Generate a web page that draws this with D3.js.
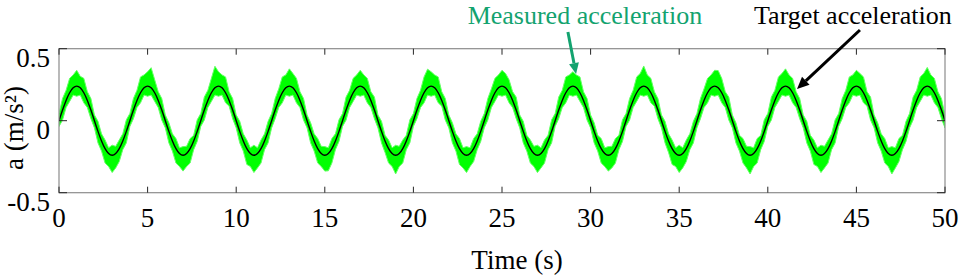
<!DOCTYPE html>
<html>
<head>
<meta charset="utf-8">
<script src="https://cdn.jsdelivr.net/npm/d3@7"></script>
<style>
  body { margin: 0; background: #fff; }
  svg text { font-family: "Liberation Serif", "Times New Roman", serif; }
</style>
</head>
<body>
<div id="chart"></div>
<script>
// sample spacing of the traces (s)
const sampleStep = 0.2;

// target acceleration (m/s^2), one value every 0.2 s from 0 to 50 s
const targetAcc = [
  0, 0.074, 0.141, 0.194, 0.228, 0.240, 0.228, 0.194, 0.141, 0.074, 0, -0.074, -0.141, -0.194, -0.228, -0.240, -0.228, -0.194, -0.141, -0.074,
  0, 0.074, 0.141, 0.194, 0.228, 0.240, 0.228, 0.194, 0.141, 0.074, 0, -0.074, -0.141, -0.194, -0.228, -0.240, -0.228, -0.194, -0.141, -0.074,
  0, 0.074, 0.141, 0.194, 0.228, 0.240, 0.228, 0.194, 0.141, 0.074, 0, -0.074, -0.141, -0.194, -0.228, -0.240, -0.228, -0.194, -0.141, -0.074,
  0, 0.074, 0.141, 0.194, 0.228, 0.240, 0.228, 0.194, 0.141, 0.074, 0, -0.074, -0.141, -0.194, -0.228, -0.240, -0.228, -0.194, -0.141, -0.074,
  0, 0.074, 0.141, 0.194, 0.228, 0.240, 0.228, 0.194, 0.141, 0.074, 0, -0.074, -0.141, -0.194, -0.228, -0.240, -0.228, -0.194, -0.141, -0.074,
  0, 0.074, 0.141, 0.194, 0.228, 0.240, 0.228, 0.194, 0.141, 0.074, 0, -0.074, -0.141, -0.194, -0.228, -0.240, -0.228, -0.194, -0.141, -0.074,
  0, 0.074, 0.141, 0.194, 0.228, 0.240, 0.228, 0.194, 0.141, 0.074, 0, -0.074, -0.141, -0.194, -0.228, -0.240, -0.228, -0.194, -0.141, -0.074,
  0, 0.074, 0.141, 0.194, 0.228, 0.240, 0.228, 0.194, 0.141, 0.074, 0, -0.074, -0.141, -0.194, -0.228, -0.240, -0.228, -0.194, -0.141, -0.074,
  0, 0.074, 0.141, 0.194, 0.228, 0.240, 0.228, 0.194, 0.141, 0.074, 0, -0.074, -0.141, -0.194, -0.228, -0.240, -0.228, -0.194, -0.141, -0.074,
  0, 0.074, 0.141, 0.194, 0.228, 0.240, 0.228, 0.194, 0.141, 0.074, 0, -0.074, -0.141, -0.194, -0.228, -0.240, -0.228, -0.194, -0.141, -0.074,
  0, 0.074, 0.141, 0.194, 0.228, 0.240, 0.228, 0.194, 0.141, 0.074, 0, -0.074, -0.141, -0.194, -0.228, -0.240, -0.228, -0.194, -0.141, -0.074,
  0, 0.074, 0.141, 0.194, 0.228, 0.240, 0.228, 0.194, 0.141, 0.074, 0, -0.074, -0.141, -0.194, -0.228, -0.240, -0.228, -0.194, -0.141, -0.074,
  0, 0.074, 0.141, 0.194, 0.228, 0.240, 0.228, 0.194, 0.141, 0.074, 0
];

// measured acceleration: how far the noisy trace reaches above the target (m/s^2)
const measuredAbove = [
  .05,.08,.07,.10,.09,.11,.08,.10,.06,.08,.04,.07,.05,.06,.04,.07,.05,.06,.05,.08,
  .05,.08,.07,.11,.09,.10,.14,.09,.06,.08,.04,.06,.05,.07,.04,.06,.05,.07,.04,.08,
  .05,.09,.07,.10,.15,.10,.09,.11,.06,.08,.04,.07,.05,.06,.04,.07,.04,.06,.05,.07,
  .05,.08,.08,.11,.09,.12,.10,.10,.06,.08,.04,.06,.05,.07,.05,.06,.04,.07,.05,.08,
  .05,.09,.07,.10,.09,.11,.09,.10,.06,.09,.04,.07,.04,.06,.04,.07,.05,.06,.04,.08,
  .05,.08,.07,.11,.13,.10,.09,.11,.06,.08,.04,.06,.05,.07,.04,.06,.04,.07,.05,.07,
  .05,.08,.08,.10,.09,.11,.10,.09,.06,.09,.04,.07,.04,.06,.05,.07,.04,.06,.04,.08,
  .05,.09,.07,.11,.09,.10,.09,.11,.06,.08,.04,.06,.04,.07,.04,.06,.05,.07,.04,.08,
  .05,.08,.07,.11,.10,.14,.09,.10,.06,.08,.04,.07,.05,.06,.04,.07,.04,.06,.05,.07,
  .05,.08,.08,.10,.09,.11,.12,.10,.06,.09,.04,.06,.04,.07,.05,.06,.04,.07,.04,.08,
  .05,.09,.07,.11,.10,.12,.09,.10,.06,.08,.04,.07,.04,.06,.04,.07,.05,.06,.05,.08,
  .05,.08,.07,.11,.09,.11,.10,.11,.06,.09,.04,.06,.05,.07,.04,.06,.04,.07,.04,.07,
  .05,.09,.07,.11,.10,.13,.09,.10,.06,.08,.04
];

// measured acceleration: how far the noisy trace reaches below the target (m/s^2)
const measuredBelow = [
  .04,.07,.05,.06,.05,.07,.05,.07,.05,.06,.05,.08,.07,.10,.09,.12,.10,.09,.06,.08,
  .04,.06,.05,.07,.05,.07,.05,.06,.05,.07,.05,.08,.07,.10,.09,.11,.09,.10,.06,.07,
  .04,.07,.05,.06,.05,.07,.05,.07,.04,.06,.05,.08,.07,.11,.09,.12,.10,.10,.06,.08,
  .05,.06,.05,.07,.05,.07,.05,.07,.05,.07,.05,.08,.07,.10,.09,.11,.12,.10,.06,.07,
  .04,.07,.05,.06,.05,.07,.05,.07,.05,.06,.05,.08,.08,.10,.09,.13,.09,.10,.06,.08,
  .04,.06,.05,.07,.05,.07,.05,.07,.04,.07,.05,.08,.07,.11,.10,.12,.09,.09,.06,.07,
  .05,.07,.05,.06,.05,.07,.05,.07,.05,.06,.05,.08,.07,.10,.09,.12,.10,.10,.06,.08,
  .04,.06,.05,.07,.05,.07,.05,.06,.05,.07,.05,.08,.07,.10,.09,.11,.10,.10,.06,.07,
  .04,.07,.05,.06,.05,.07,.05,.07,.04,.06,.05,.08,.08,.11,.09,.12,.10,.09,.06,.08,
  .05,.06,.05,.07,.05,.07,.05,.07,.05,.07,.05,.08,.07,.10,.10,.13,.09,.10,.06,.07,
  .04,.07,.05,.06,.05,.07,.05,.07,.05,.06,.05,.08,.07,.11,.09,.12,.10,.10,.06,.08,
  .04,.06,.05,.07,.05,.07,.05,.07,.04,.07,.05,.08,.07,.10,.09,.13,.10,.09,.06,.07,
  .05,.07,.05,.06,.05,.07,.05,.07,.05,.06,.05
];

const xTicks = [0, 5, 10, 15, 20, 25, 30, 35, 40, 45, 50];
const yTicks = [-0.5, 0, 0.5];
const yTickLabels = ["-0.5", "0", "0.5"];

const width = 969, height = 278;
const margin = { top: 48.7, right: 24, bottom: 85.3, left: 59 };
const fontSize = 27;

const svg = d3.select("#chart").append("svg")
  .attr("width", width)
  .attr("height", height);

const x = d3.scaleLinear().domain([0, 50]).range([margin.left, width - margin.right]);
const y = d3.scaleLinear().domain([-0.5, 0.5]).range([height - margin.bottom, margin.top]);

const rows = targetAcc.map((v, i) => ({
  t: i * sampleStep,
  target: v,
  hi: v + measuredAbove[i],
  lo: v - measuredBelow[i]
}));

svg.append("clipPath").attr("id", "plotClip")
  .append("rect")
  .attr("x", x(0)).attr("y", y(0.5))
  .attr("width", x(50) - x(0)).attr("height", y(-0.5) - y(0.5));

const plot = svg.append("g").attr("clip-path", "url(#plotClip)");

// measured (noisy) trace drawn as its band
const band = d3.area()
  .x(d => x(d.t))
  .y0(d => y(d.lo))
  .y1(d => y(d.hi));

plot.append("path")
  .datum(rows)
  .attr("d", band)
  .attr("fill", "#00ff00")
  .attr("stroke", "#66ff66")
  .attr("stroke-width", 1);

// target trace
const line = d3.line()
  .x(d => x(d.t))
  .y(d => y(d.target))
  .curve(d3.curveNatural);

plot.append("path")
  .datum(rows)
  .attr("d", line)
  .attr("fill", "none")
  .attr("stroke", "#000")
  .attr("stroke-width", 1.4);

// frame
svg.append("rect")
  .attr("x", x(0)).attr("y", y(0.5))
  .attr("width", x(50) - x(0)).attr("height", y(-0.5) - y(0.5))
  .attr("fill", "none")
  .attr("stroke", "#8c8c8c")
  .attr("stroke-width", 1.2);

// ticks (inward, on all four sides)
const tickColor = "#262626";
xTicks.forEach(t => {
  svg.append("line").attr("x1", x(t)).attr("x2", x(t))
    .attr("y1", y(-0.5)).attr("y2", y(-0.5) - 6).attr("stroke", tickColor);
  svg.append("line").attr("x1", x(t)).attr("x2", x(t))
    .attr("y1", y(0.5)).attr("y2", y(0.5) + 6).attr("stroke", tickColor);
});
yTicks.forEach(v => {
  svg.append("line").attr("x1", x(0)).attr("x2", x(0) + 8)
    .attr("y1", y(v)).attr("y2", y(v)).attr("stroke", tickColor);
  svg.append("line").attr("x1", x(50)).attr("x2", x(50) - 8)
    .attr("y1", y(v)).attr("y2", y(v)).attr("stroke", tickColor);
});

function addText(txt, px, py, opts) {
  const o = Object.assign({ size: fontSize, anchor: "middle", color: "#000", rotate: 0 }, opts);
  return svg.append("text")
    .attr("transform", `translate(${px},${py}) rotate(${o.rotate})`)
    .attr("text-anchor", o.anchor)
    .attr("font-size", o.size)
    .attr("fill", o.color)
    .text(txt);
}

xTicks.forEach(t => addText(String(t), x(t), y(-0.5) + 34));
yTicks.forEach((v, i) => addText(yTickLabels[i], x(0) - 9, y(v) + 18, { anchor: "end" }));

addText("Time (s)", 517, 269);
addText("a (m/s²)", 23, 128, { rotate: -90 });

// annotations
const measuredColor = "#13a36f";
function arrow(x1, y1, x2, y2, color, w, headLen, headW) {
  const ang = Math.atan2(y2 - y1, x2 - x1);
  const bx = x2 - headLen * Math.cos(ang), by = y2 - headLen * Math.sin(ang);
  svg.append("line").attr("x1", x1).attr("y1", y1).attr("x2", bx).attr("y2", by)
    .attr("stroke", color).attr("stroke-width", w);
  const px = -Math.sin(ang) * headW, py = Math.cos(ang) * headW;
  svg.append("path")
    .attr("d", `M${x2},${y2}L${bx + px},${by + py}L${bx - px},${by - py}Z`)
    .attr("fill", color);
}

arrow(x(28.72), y(0.616), x(29.18), y(0.324), measuredColor, 3, 11, 5);
arrow(x(45.2), y(0.63), x(41.65), y(0.22), "#000", 3, 12, 5.5);

addText("Measured acceleration", x(29.68), 24, { size: 26, color: measuredColor });
addText("Target acceleration", x(44.8), 24, { size: 26 });
</script>
</body>
</html>
